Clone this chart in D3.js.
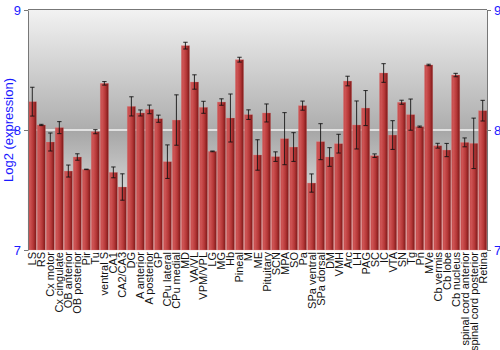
<!DOCTYPE html>
<html>
<head>
<meta charset="utf-8">
<script src="https://cdn.jsdelivr.net/npm/d3@7"></script>
<style>
  body { margin: 0; background: #fff; }
  text { font-family: "Liberation Sans", Arial, sans-serif; }
</style>
</head>
<body>
<script>
// tissue names, mean log2 expression, and error (half-height of the error bar)
var tissues = ["LS", "RS", "Cx motor", "Cx cingulate", "OB anterior", "OB posterior", "Pir", "Tu",
    "ventral S", "CA1", "CA2/CA3", "DG", "A anterior", "A posterior", "GP", "CPu lateral", "CPu medial",
    "MD", "VA/VL", "VPM/VPL", "LG", "MG", "Hb", "Pineal", "M", "ME", "Pituitary", "SCN", "MPA", "SO",
    "Pa", "SPa ventral", "SPa dorsal", "DM", "VMH", "Arc", "LH", "PAG", "SC", "IC", "VTA", "SN", "Tg",
    "Pn", "MVe", "Cb vermis", "Cb lobe", "Cb nucleus", "spinal cord anterior", "spinal cord posterior", "Retina"];

var expression = [8.236, 8.042, 7.90, 8.02, 7.658, 7.775, 7.672, 7.986,
    8.389, 7.647, 7.525, 8.197, 8.142, 8.172, 8.094, 7.736, 8.083,
    8.703, 8.40, 8.189, 7.822, 8.233, 8.10, 8.586, 8.128, 7.792, 8.142, 7.778, 7.928, 7.858,
    8.203, 7.558, 7.903, 7.775, 7.886, 8.408, 8.042, 8.183, 7.786, 8.475, 7.958, 8.231, 8.128,
    8.028, 8.542, 7.869, 7.833, 8.458, 7.897, 7.889, 8.161];

var errors = [0.12, 0.005, 0.075, 0.05, 0.05, 0.027, 0.002, 0.017,
    0.015, 0.045, 0.11, 0.08, 0.025, 0.036, 0.03, 0.14, 0.21,
    0.028, 0.06, 0.05, 0.003, 0.027, 0.2, 0.02, 0.04, 0.127, 0.075, 0.04, 0.217, 0.12,
    0.038, 0.076, 0.15, 0.078, 0.078, 0.04, 0.2, 0.146, 0.015, 0.078, 0.12, 0.017, 0.13,
    0.005, 0.006, 0.02, 0.055, 0.014, 0.037, 0.21, 0.086];

var yTicks = [7, 8, 9];

var data = tissues.map(function(t, i) {
    return {name: t, value: expression[i], err: errors[i]};
});

var w = 500, h = 350;
var plotLeft = 28, plotRight = 487, plotTop = 10, plotBottom = 250;

var svg = d3.select("body").append("svg")
    .attr("width", w)
    .attr("height", h);

var defs = svg.append("defs");

// plot background: light on top, darker toward the middle, white at bottom
var bg = defs.append("linearGradient")
    .attr("id", "bgGrad")
    .attr("x1", 0).attr("y1", 0).attr("x2", 0).attr("y2", 1);
bg.append("stop").attr("offset", "0%").attr("stop-color", "#f2f2f2");
bg.append("stop").attr("offset", "50%").attr("stop-color", "#adadad");
bg.append("stop").attr("offset", "50%").attr("stop-color", "#a6a6a6");
bg.append("stop").attr("offset", "100%").attr("stop-color", "#ffffff");

var barGrad = defs.append("linearGradient")
    .attr("id", "barGrad")
    .attr("x1", 0).attr("y1", 0).attr("x2", 1).attr("y2", 0);
barGrad.append("stop").attr("offset", "0%").attr("stop-color", "#c04646");
barGrad.append("stop").attr("offset", "20%").attr("stop-color", "#cf5555");
barGrad.append("stop").attr("offset", "60%").attr("stop-color", "#b63838");
barGrad.append("stop").attr("offset", "100%").attr("stop-color", "#7a1616");

var x = d3.scaleBand()
    .domain(tissues)
    .range([plotLeft, plotRight])
    .paddingInner(0.08)
    .paddingOuter(0.02);

var y = d3.scaleLinear()
    .domain([7, 9])
    .range([plotBottom, plotTop]);

svg.append("rect")
    .attr("x", plotLeft).attr("y", plotTop)
    .attr("width", plotRight - plotLeft).attr("height", plotBottom - plotTop)
    .attr("fill", "url(#bgGrad)");

// white grid line at 8
svg.append("line")
    .attr("x1", plotLeft).attr("x2", plotRight)
    .attr("y1", y(8)).attr("y2", y(8))
    .attr("stroke", "#f4f4f4")
    .attr("stroke-width", 1.5);

var bars = svg.append("g");

bars.selectAll("rect")
    .data(data)
    .enter()
    .append("rect")
    .attr("x", d => x(d.name))
    .attr("y", d => y(d.value))
    .attr("width", x.bandwidth())
    .attr("height", d => y(7) - y(d.value))
    .attr("fill", "url(#barGrad)")
    .attr("stroke", "rgba(230,140,140,0.45)")
    .attr("stroke-width", 0.6);

// error bars
var eb = svg.append("g")
    .attr("stroke", "#111")
    .attr("stroke-opacity", 0.8)
    .attr("stroke-width", 1.1);

data.forEach(function(d) {
    var cx = x(d.name) + x.bandwidth() / 2;
    var y1 = y(d.value + d.err), y2 = y(d.value - d.err);
    eb.append("line").attr("x1", cx).attr("x2", cx).attr("y1", y1).attr("y2", y2);
    eb.append("line").attr("x1", cx - 2.2).attr("x2", cx + 2.2).attr("y1", y1).attr("y2", y1);
    eb.append("line").attr("x1", cx - 2.2).attr("x2", cx + 2.2).attr("y1", y2).attr("y2", y2);
});

// top frame line
svg.append("line")
    .attr("x1", plotLeft).attr("x2", plotRight).attr("y1", plotTop - 0.5).attr("y2", plotTop - 0.5)
    .attr("stroke", "#777").attr("stroke-width", 1);

var yLeft = d3.axisLeft(y).tickValues(yTicks).tickSize(4).tickSizeOuter(0).tickFormat(d3.format("d"));
var yRight = d3.axisRight(y).tickValues(yTicks).tickSize(4).tickSizeOuter(0).tickFormat(d3.format("d"));

function styleAxis(g) {
    g.select(".domain").attr("stroke", "#777");
    g.selectAll(".tick line").attr("stroke", "#777");
    g.selectAll(".tick text")
        .attr("fill", "#1a1aff")
        .style("font-size", "13px");
}

svg.append("g")
    .attr("transform", "translate(" + plotLeft + ",0)")
    .call(yLeft)
    .call(styleAxis);

svg.append("g")
    .attr("transform", "translate(" + plotRight + ",0)")
    .call(yRight)
    .call(styleAxis);

// category labels, rotated
svg.append("g")
    .selectAll("text")
    .data(tissues)
    .enter()
    .append("text")
    .attr("transform", d => "translate(" + (x(d) + x.bandwidth() / 2 + 4) + "," + (plotBottom + 2) + ") rotate(-90)")
    .style("text-anchor", "end")
    .style("font-size", "11px")
    .attr("fill", "#111")
    .text(d => d);

svg.append("text")
    .attr("transform", "translate(13," + ((plotTop + plotBottom) / 2) + ") rotate(-90)")
    .style("text-anchor", "middle")
    .style("font-size", "13px")
    .attr("fill", "#1a1aff")
    .text("Log2 (expression)");
</script>
</body>
</html>
